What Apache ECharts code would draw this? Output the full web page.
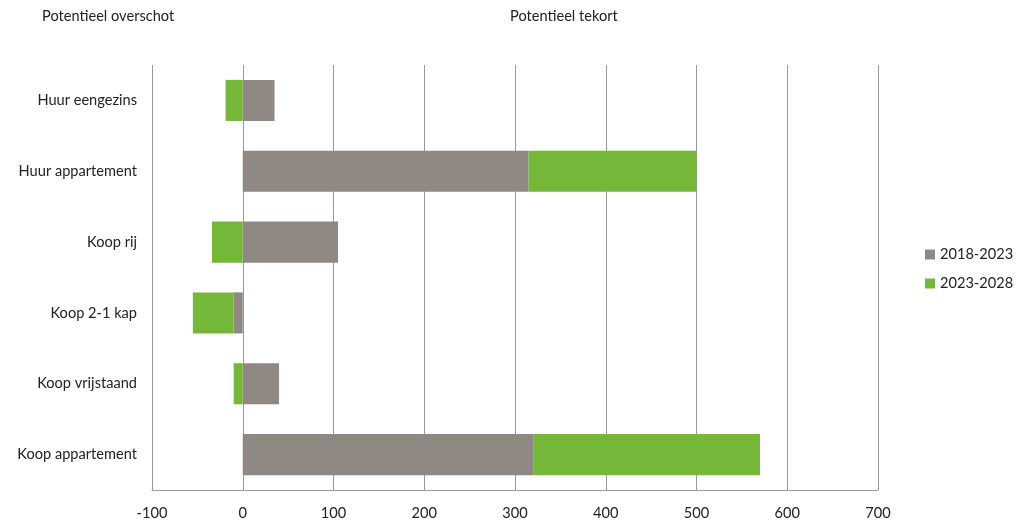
<!DOCTYPE html>
<html>
<head>
<meta charset="utf-8">
<script src="https://cdn.jsdelivr.net/npm/echarts@6/dist/echarts.min.js"></script>
<style>
  html, body { margin: 0; padding: 0; background: #fff; }
  #chart { width: 1020px; height: 521px; }
</style>
</head>
<body>
<div id="chart"></div>
<script>
var categories = ['Huur eengezins', 'Huur appartement', 'Koop rij', 'Koop 2-1 kap', 'Koop vrijstaand', 'Koop appartement'];
var periode1 = [35, 315, 105, -10, 40, 320];
var periode2 = [-19, 185, -34, -45, -10, 250];
var xTicks = [-100, 0, 100, 200, 300, 400, 500, 600, 700];

var font = 'Lato, "Open Sans", sans-serif';
var fs = 14.6;
var chart = echarts.init(document.getElementById('chart'));

chart.setOption({
  animation: false,
  textStyle: { fontFamily: font },
  title: [
    { text: 'Potentieel overschot', left: 37, top: 4, textStyle: { fontSize: fs, fontWeight: 'normal', color: '#222', fontFamily: font } },
    { text: 'Potentieel tekort', left: 505, top: 4, textStyle: { fontSize: fs, fontWeight: 'normal', color: '#222', fontFamily: font } }
  ],
  legend: {
    orient: 'vertical',
    left: 920,
    top: 242,
    itemWidth: 10,
    itemHeight: 10,
    itemGap: 14,
    icon: 'rect',
    textStyle: { fontSize: fs, color: '#222', fontFamily: font },
    data: ['2018-2023', '2023-2028']
  },
  grid: { left: 152, right: 142, top: 65, bottom: 30 },
  xAxis: {
    type: 'value',
    min: xTicks[0],
    max: xTicks[xTicks.length - 1],
    interval: 100,
    axisLine: { show: true, lineStyle: { color: '#999', width: 1 } },
    axisTick: { show: false },
    axisLabel: { fontSize: fs, color: '#222', margin: 16, fontFamily: font },
    splitLine: { show: true, lineStyle: { color: '#999', width: 1 } }
  },
  yAxis: {
    type: 'category',
    inverse: true,
    data: categories,
    axisLine: { show: false },
    axisTick: { show: false },
    axisLabel: { fontSize: fs, color: '#222', margin: 15, fontFamily: font }
  },
  series: [
    {
      name: '2018-2023',
      type: 'bar',
      stack: 'totaal',
      barWidth: '58%',
      itemStyle: { color: '#908983' },
      data: periode1
    },
    {
      name: '2023-2028',
      type: 'bar',
      stack: 'totaal',
      barWidth: '58%',
      itemStyle: { color: '#74b739' },
      data: periode2
    }
  ]
});
</script>
</body>
</html>
